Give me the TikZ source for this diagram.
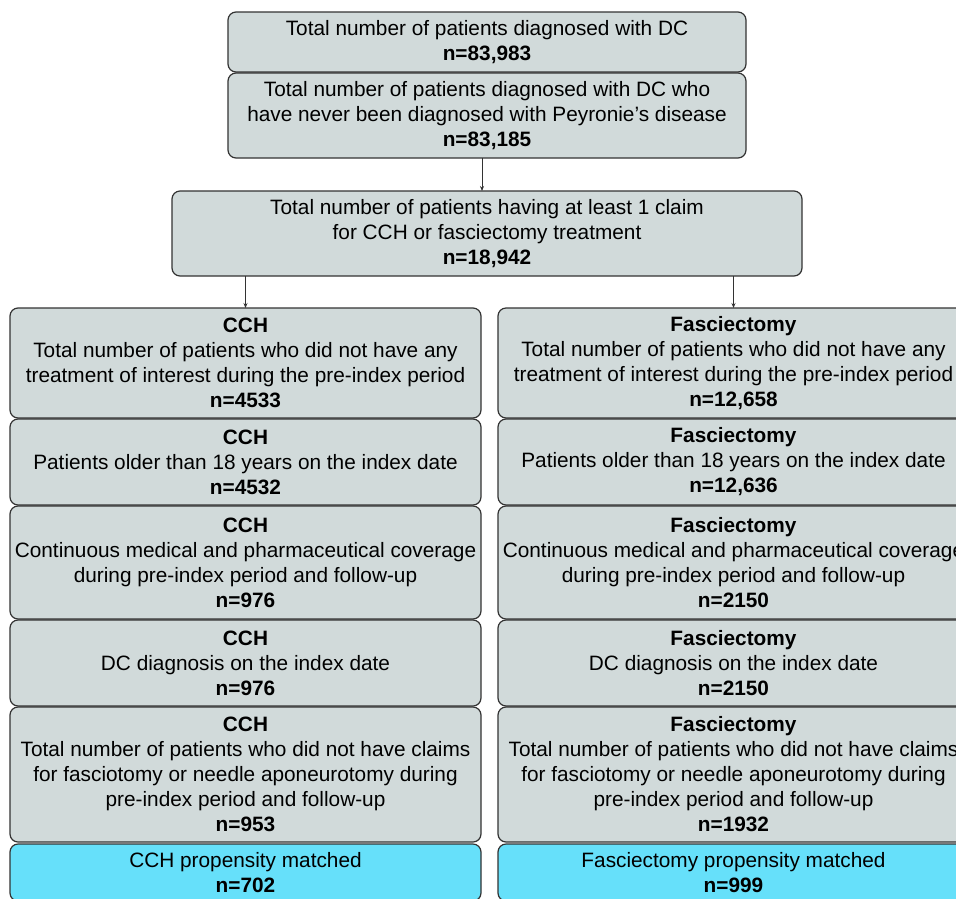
\documentclass[tikz,border=0pt]{standalone}
\usepackage{fontspec}
\setmainfont{Liberation Sans}
\usetikzlibrary{positioning,arrows.meta}
\definecolor{boxgray}{RGB}{209,218,218}
\definecolor{matchblue}{RGB}{102,224,250}
\definecolor{linegray}{RGB}{51,51,51}

\begin{document}
\begin{tikzpicture}[x=1pt,y=-1pt,
every node/.style = {draw=linegray, line width=1.2pt, rounded corners=8pt, fill=boxgray,
  align=center, inner sep=0pt, outer sep=0pt, font=\fontsize{20.8}{25}\selectfont},
  colbox/.style = {minimum width=471pt},
  matched/.style = {fill=matchblue},
  link/.style = {draw=linegray, line width=0.8pt, -{Stealth[length=5pt,width=4pt]}},
  node distance = 1pt
]
\useasboundingbox (0,0) rectangle (956,898);

% common part
\node[minimum width=518pt, minimum height=60pt, anchor=north] (alldc) at (487,12)
  {Total number of patients diagnosed with DC\\ \textbf{n=83,983}};
\node[minimum width=518pt, minimum height=85pt, below=of alldc] (nopd)
  {Total number of patients diagnosed with DC who\\ have never been diagnosed with Peyronie's disease\\ \textbf{n=83,185}};
\node[minimum width=630pt, minimum height=85pt, anchor=north] (claim) at (487,191)
  {Total number of patients having at least 1 claim\\ for CCH or fasciectomy treatment\\ \textbf{n=18,942}};

% CCH column
\node[colbox, minimum height=110pt, anchor=north] (cch1) at (245.5,308)
  {\textbf{CCH}\\ Total number of patients who did not have any\\ treatment of interest during the pre-index period\\ \textbf{n=4533}};
\node[colbox, minimum height=86pt, below=of cch1] (cch2)
  {\textbf{CCH}\\ Patients older than 18 years on the index date\\ \textbf{n=4532}};
\node[colbox, minimum height=113pt, below=of cch2] (cch3)
  {\textbf{CCH}\\ Continuous medical and pharmaceutical coverage\\ during pre-index period and follow-up\\ \textbf{n=976}};
\node[colbox, minimum height=86pt, below=of cch3] (cch4)
  {\textbf{CCH}\\ DC diagnosis on the index date\\ \textbf{n=976}};
\node[colbox, minimum height=135pt, below=of cch4] (cch5)
  {\textbf{CCH}\\ Total number of patients who did not have claims\\ for fasciotomy or needle aponeurotomy during\\ pre-index period and follow-up\\ \textbf{n=953}};
\node[colbox, matched, minimum height=57pt, below=2pt of cch5] (cch6)
  {CCH propensity matched\\ \textbf{n=702}};

% Fasciectomy column
\node[colbox, minimum height=110pt, anchor=north] (fas1) at (733.5,308)
  {\textbf{Fasciectomy}\\ Total number of patients who did not have any\\ treatment of interest during the pre-index period\\ \textbf{n=12,658}};
\node[colbox, minimum height=86pt, below=of fas1] (fas2)
  {\textbf{Fasciectomy}\\ Patients older than 18 years on the index date\\ \textbf{n=12,636}};
\node[colbox, minimum height=113pt, below=of fas2] (fas3)
  {\textbf{Fasciectomy}\\ Continuous medical and pharmaceutical coverage\\ during pre-index period and follow-up\\ \textbf{n=2150}};
\node[colbox, minimum height=86pt, below=of fas3] (fas4)
  {\textbf{Fasciectomy}\\ DC diagnosis on the index date\\ \textbf{n=2150}};
\node[colbox, minimum height=135pt, below=of fas4] (fas5)
  {\textbf{Fasciectomy}\\ Total number of patients who did not have claims\\ for fasciotomy or needle aponeurotomy during\\ pre-index period and follow-up\\ \textbf{n=1932}};
\node[colbox, matched, minimum height=57pt, below=2pt of fas5] (fas6)
  {Fasciectomy propensity matched\\ \textbf{n=999}};

% arrows
\draw[link] ([xshift=-5pt]nopd.south) -- ([xshift=-5pt]nopd.south |- claim.north);
\draw[link] (claim.south -| cch1.north) -- (cch1.north);
\draw[link] (claim.south -| fas1.north) -- (fas1.north);
\end{tikzpicture}
\end{document}
